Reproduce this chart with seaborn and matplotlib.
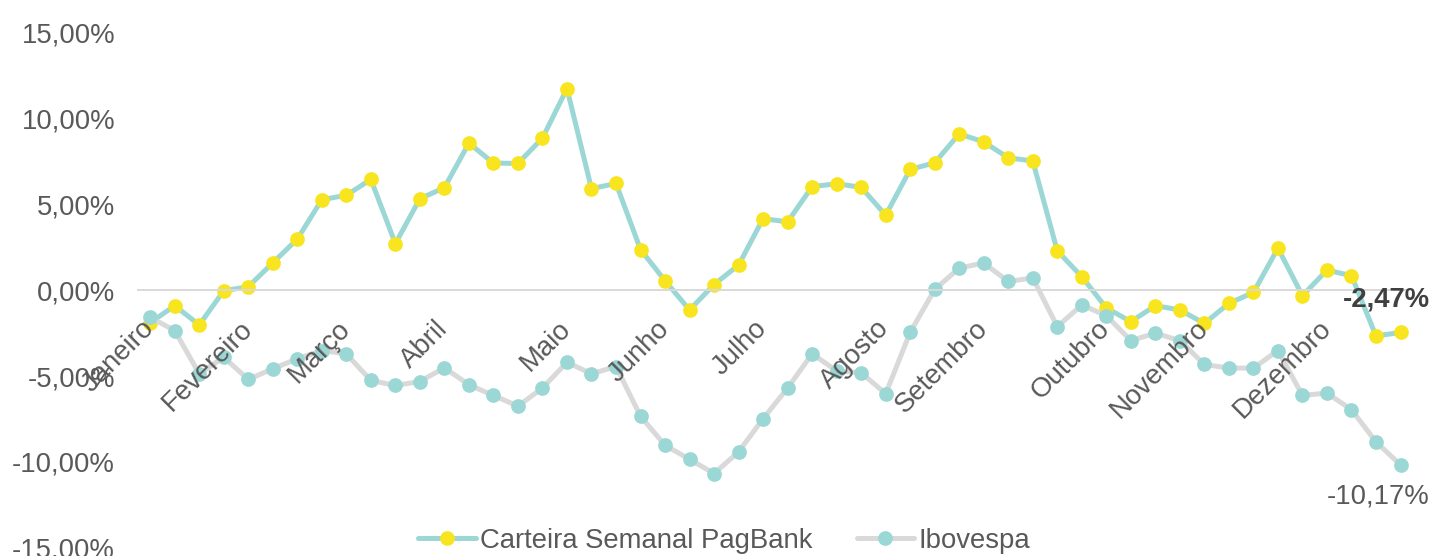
import matplotlib
matplotlib.use("Agg")
import numpy as np
import pandas as pd
import matplotlib.pyplot as plt
import seaborn as sns
from matplotlib.ticker import FuncFormatter

# ------------------------------------------------------------------
# DATA (weekly accumulated return, %)
# ------------------------------------------------------------------
semanas = list(range(52))

carteira = [-1.90, -0.91, -2.03, -0.04, 0.19, 1.58, 2.96, 5.25, 5.51, 6.43,
            2.70, 5.31, 5.95, 8.54, 7.38, 7.36, 8.83, 11.71, 5.89, 6.20,
            2.35, 0.54, -1.16, 0.32, 1.45, 4.15, 3.96, 6.01, 6.18, 5.97,
            4.35, 7.01, 7.40, 9.08, 8.61, 7.69, 7.50, 2.28, 0.77, -1.04,
            -1.84, -0.91, -1.16, -1.94, -0.78, -0.14, 2.43, -0.33, 1.16, 0.83,
            -2.67, -2.47]

ibovespa = [-1.59, -2.36, -4.87, -3.91, -5.20, -4.58, -4.00, -3.52, -3.71, -5.26,
            -5.55, -5.32, -4.52, -5.51, -6.13, -6.75, -5.70, -4.20, -4.87, -4.45,
            -7.34, -9.03, -9.84, -10.67, -9.41, -7.48, -5.70, -3.71, -4.70, -4.81,
            -6.03, -2.46, 0.03, 1.28, 1.57, 0.50, 0.70, -2.13, -0.87, -1.49,
            -2.94, -2.51, -2.94, -4.33, -4.54, -4.54, -3.52, -6.13, -5.99, -6.96,
            -8.83, -10.17]

meses = ["Janeiro", "Fevereiro", "Março", "Abril", "Maio", "Junho", "Julho",
         "Agosto", "Setembro", "Outubro", "Novembro", "Dezembro"]
semana_inicio_mes = [0, 4, 8, 12, 17, 21, 25, 30, 34, 39, 43, 48]

yticks = [-15, -10, -5, 0, 5, 10, 15]

# ------------------------------------------------------------------
# STYLE
# ------------------------------------------------------------------
TEAL = "#9BD7D5"
YELLOW = "#F8E51F"
GRAY_LINE = "#D9D9D9"
TEXT = "#595959"
FS = 19.8

sns.set_style("white")
plt.rcParams["font.family"] = ["Liberation Sans", "DejaVu Sans"]

df = pd.DataFrame({"semana": semanas, "carteira": carteira, "ibovespa": ibovespa})

fig = plt.figure(figsize=(14.34, 5.56), dpi=100)
ax = fig.add_axes([0.0962, 0.0144, 0.889, 0.928])

sns.lineplot(data=df, x="semana", y="carteira", ax=ax, color=TEAL, linewidth=3.6,
             marker="o", markersize=10.6, markerfacecolor=YELLOW,
             markeredgecolor=YELLOW, markeredgewidth=0, legend=False)
sns.lineplot(data=df, x="semana", y="ibovespa", ax=ax, color=GRAY_LINE, linewidth=3.6,
             marker="o", markersize=10.6, markerfacecolor=TEAL,
             markeredgecolor=TEAL, markeredgewidth=0, legend=False)

ax.set_xlim(-0.5, len(semanas) - 0.5)
ax.set_ylim(yticks[0], yticks[-1])
ax.set_axisbelow(False)

for side in ["left", "top", "right"]:
    ax.spines[side].set_visible(False)
ax.spines["bottom"].set_position(("data", 0))
ax.spines["bottom"].set_color(GRAY_LINE)
ax.spines["bottom"].set_linewidth(1.4)

# category axis: tick marks between weeks, month names at first week
ax.set_xticks(np.arange(-0.5, len(semanas), 1), minor=True)
ax.set_xticks(semana_inicio_mes, meses)
ax.tick_params(axis="x", which="minor", direction="out", length=5.8, width=1.4,
               color=GRAY_LINE)
ax.tick_params(axis="x", which="major", length=0, pad=25, labelsize=FS,
               labelcolor=TEXT)
for lbl in ax.get_xticklabels():
    lbl.set_rotation(45)
    lbl.set_ha("right")
    lbl.set_va("center")
    lbl.set_rotation_mode("anchor")

ax.set_yticks(yticks)
ax.yaxis.set_major_formatter(FuncFormatter(lambda v, p: f"{v:.2f}%".replace(".", ",")))
ax.tick_params(axis="y", length=0, pad=16.5, labelsize=FS, labelcolor=TEXT)
ax.set_xlabel("")
ax.set_ylabel("")
ax.grid(False)

# end labels
ax.annotate(f"{carteira[-1]:.2f}%".replace(".", ","), xy=(semanas[-1], carteira[-1]),
            xytext=(21, 24), textcoords="offset points", ha="right", va="center",
            fontsize=FS, fontweight="bold", color="#404040", annotation_clip=False)
ax.annotate(f"{ibovespa[-1]:.2f}%".replace(".", ","), xy=(semanas[-1], ibovespa[-1]),
            xytext=(21, -22.5), textcoords="offset points", ha="right", va="center",
            fontsize=FS, color=TEXT, annotation_clip=False)

fig.legend(handles=ax.lines[:2], labels=["Carteira Semanal PagBank", "Ibovespa"],
           loc="center", bbox_to_anchor=(0.505, 0.027), ncol=2, frameon=False,
           fontsize=FS, handlelength=2.1, handletextpad=0.15, columnspacing=1.6,
           labelcolor=TEXT)

fig.savefig("out.png", dpi=100)
plt.close(fig)
